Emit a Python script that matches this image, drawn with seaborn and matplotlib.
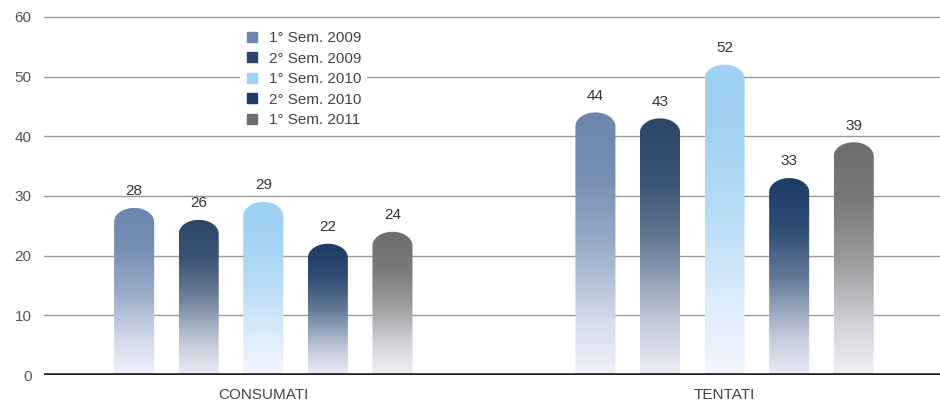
import numpy as np
import pandas as pd
import matplotlib
matplotlib.use('Agg')
import matplotlib.pyplot as plt
from matplotlib.colors import LinearSegmentedColormap, to_rgb
from matplotlib.lines import Line2D
from matplotlib.path import Path
from matplotlib.patches import PathPatch
import seaborn as sns

# Chart data
categories = ['CONSUMATI', 'TENTATI']
periods = ['1° Sem. 2009', '2° Sem. 2009', '1° Sem. 2010', '2° Sem. 2010', '1° Sem. 2011']
consumati = [28, 26, 29, 22, 24]
tentati = [44, 43, 52, 33, 39]
period_colors = ['#6c86ad', '#2c4669', '#9dd0f2', '#1d3d68', '#6e6e6e']

df = pd.DataFrame({
    'categoria': [categories[0]] * len(periods) + [categories[1]] * len(periods),
    'periodo': periods * 2,
    'valore': consumati + tentati,
})

sns.set_style('white')
plt.rcParams['font.family'] = ['Liberation Sans', 'DejaVu Sans']

fig = plt.figure(figsize=(9.4, 4.09), dpi=100)
ax = fig.add_axes([0.047, 0.083, 0.953, 0.883])

sns.barplot(data=df, x='categoria', y='valore', hue='periodo', hue_order=periods,
            palette=period_colors, width=0.7, gap=0.38, legend=False, ax=ax)

xlim = (-0.475, 1.467)
ylim = (0, 60.5)
ax.set_xlim(xlim)
ax.set_ylim(ylim)

# pixel scale, used to give the bar tops a round cap
ax_w = fig.get_figwidth() * fig.dpi * 0.953
ax_h = fig.get_figheight() * fig.dpi * 0.883
px_x = ax_w / (xlim[1] - xlim[0])
px_y = ax_h / (ylim[1] - ylim[0])


def faded_cmap(color):
    c = np.array(to_rgb(color))
    white = np.array([0.97, 0.97, 1.0])
    stops = [(0.0, 0.94), (0.2, 0.75), (0.5, 0.32), (0.75, 0.08), (1.0, 0.0)]
    return LinearSegmentedColormap.from_list(
        'fade', [(p, tuple(c * (1 - m) + white * m)) for p, m in stops])


grad = np.linspace(0, 1, 256).reshape(-1, 1)
for container, color in zip(ax.containers, period_colors):
    cmap = faded_cmap(color)
    for bar in container:
        x0, w, h = bar.get_x(), bar.get_width(), bar.get_height()
        bar.set_visible(False)
        rx = w / 2
        ry = 0.7 * rx * px_x / px_y
        theta = np.linspace(np.pi, 0, 40)
        cap_x = x0 + rx + rx * np.cos(theta)
        cap_y = h - ry + ry * np.sin(theta)
        verts = [(x0, 0)] + list(zip(cap_x, cap_y)) + [(x0 + w, 0), (x0, 0)]
        codes = [Path.MOVETO] + [Path.LINETO] * (len(verts) - 2) + [Path.CLOSEPOLY]
        clip = PathPatch(Path(verts, codes), facecolor='none', edgecolor='none',
                         transform=ax.transData)
        ax.add_patch(clip)
        im = ax.imshow(grad, extent=[x0, x0 + w, 0, h], origin='lower', cmap=cmap,
                       aspect='auto', zorder=2, interpolation='bicubic')
        im.set_clip_path(clip)
        ax.annotate(f'{h:.0f}', (x0 + rx, h), xytext=(0, 7), textcoords='offset points',
                    ha='center', va='bottom', fontsize=11, color='#333333')

ax.set_xlim(xlim)
ax.set_ylim(ylim)

ax.set_yticks(range(0, 61, 10))
ax.yaxis.grid(True, color='#999999', linewidth=1.0)
ax.set_axisbelow(True)
ax.axhline(0, color='#222222', linewidth=2.6, zorder=3)
for s in ax.spines.values():
    s.set_visible(False)

ax.set_xlabel('')
ax.set_ylabel('')
ax.tick_params(axis='y', length=0, pad=9, labelsize=11, labelcolor='#555555')
ax.tick_params(axis='x', length=0, pad=9, labelsize=11, labelcolor='#444444')
ax.set_xticks([0.5], minor=True)
ax.tick_params(axis='x', which='minor', length=9, width=1.3, color='#222222', direction='out')

handles = [Line2D([], [], marker='s', linestyle='none', markersize=6.5,
                  markerfacecolor=c, markeredgecolor=c) for c in period_colors]
leg = ax.legend(handles, periods, loc='upper left', bbox_to_anchor=(0.21, 0.99),
                frameon=True, facecolor='white', edgecolor='none', framealpha=1,
                fontsize=11, handlelength=0.8, handletextpad=0.7, labelspacing=0.42,
                borderpad=0.4)
for t in leg.get_texts():
    t.set_color('#444444')
leg.set_zorder(5)

fig.savefig('out.png', dpi=100)
